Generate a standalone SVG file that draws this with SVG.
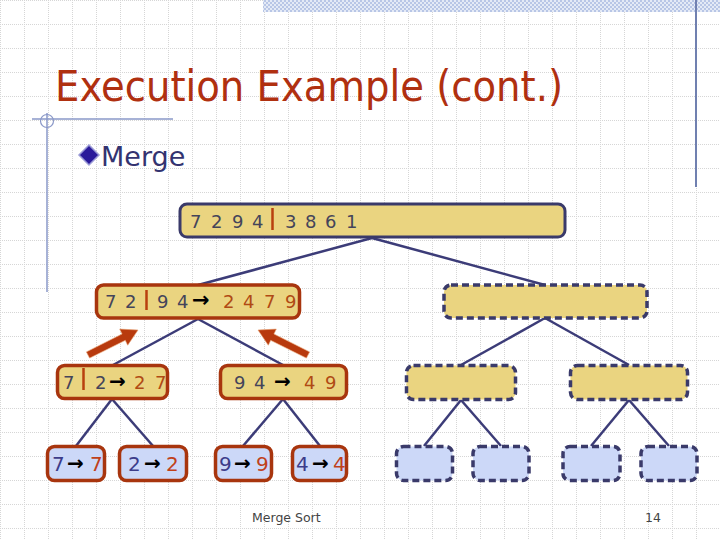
<svg xmlns="http://www.w3.org/2000/svg" width="720" height="540" viewBox="0 0 720 540">
<defs>
<pattern id="grid" x="0" y="0" width="24" height="24" patternUnits="userSpaceOnUse">
<line x1="0" y1="0.5" x2="24" y2="0.5" stroke="#d6d6d6" stroke-width="1" stroke-dasharray="1 1"/>
<line x1="0.5" y1="0" x2="0.5" y2="24" stroke="#d6d6d6" stroke-width="1" stroke-dasharray="1 1"/>
</pattern>
<pattern id="check" x="0" y="0" width="4" height="4" patternUnits="userSpaceOnUse">
<rect width="4" height="4" fill="#e4eaf6"/>
<rect width="2" height="2" fill="#b8c6e6"/>
<rect x="2" y="2" width="2" height="2" fill="#b8c6e6"/>
</pattern>
</defs>
<style>
.dig{font-family:"DejaVu Sans",Verdana,sans-serif;font-size:18px;fill:#44445a}
.res{fill:#b04a14}
.leaf{font-family:"DejaVu Sans",Verdana,sans-serif;font-size:20px}
.lv{fill:#3c3c8a}
.rv{fill:#c0401a}
.arr{font-family:"DejaVu Sans",sans-serif;font-weight:bold;fill:#000}
.gold{fill:#ead480}
.blue{fill:#ccd8f8}
.navy{stroke:#3a3a6a;stroke-width:3}
.red{stroke:#a8350e;stroke-width:3.5}
.dash{stroke:#3a3a6a;stroke-width:3.5;stroke-dasharray:7 4}
.bar{stroke:#b8400e;stroke-width:2.5}
.conn line{stroke:#3c3c78;stroke-width:2.5}
</style>
<rect width="720" height="540" fill="#ffffff"/>
<rect width="720" height="540" fill="url(#grid)"/>
<rect x="263" y="0" width="457" height="12" fill="url(#check)"/>
<line x1="696" y1="0" x2="696" y2="187" stroke="#7080b0" stroke-width="2"/>
<line x1="47" y1="113" x2="47" y2="292" stroke="#8a98c8" stroke-width="1.5"/>
<line x1="32" y1="119" x2="173" y2="119" stroke="#8a98c8" stroke-width="1.5"/>
<circle cx="47" cy="121" r="6.5" fill="none" stroke="#8a98c8" stroke-width="1.2"/>

<text x="55" y="101" font-family="DejaVu Sans,Verdana,sans-serif" font-size="42" fill="#b03010" textLength="508" lengthAdjust="spacingAndGlyphs">Execution Example (cont.)</text>
<polygon points="89,145 99,155 89,165 79,155" fill="#2a1a9a" stroke="#9a9ad6" stroke-width="1.5"/>
<text x="101" y="166" font-family="DejaVu Sans,Verdana,sans-serif" font-size="27" fill="#333370">Merge</text>

<g class="conn" id="connectors">
<line x1="372" y1="238" x2="198" y2="285"/>
<line x1="372" y1="238" x2="545" y2="285"/>
<line x1="198" y1="319" x2="113" y2="365"/>
<line x1="198" y1="319" x2="283" y2="365"/>
<line x1="545" y1="318" x2="461" y2="365"/>
<line x1="545" y1="318" x2="629" y2="365"/>
<line x1="112" y1="399" x2="76" y2="446"/>
<line x1="112" y1="399" x2="153" y2="446"/>
<line x1="283" y1="399" x2="243" y2="446"/>
<line x1="283" y1="399" x2="320" y2="446"/>
<line x1="461" y1="400" x2="424" y2="446"/>
<line x1="461" y1="400" x2="501" y2="446"/>
<line x1="629" y1="400" x2="591" y2="446"/>
<line x1="629" y1="400" x2="669" y2="446"/>
</g>

<g id="n0">
<rect x="180" y="204" width="385" height="33" rx="7" class="gold navy"/>
<text class="dig" x="190 211 232 252" y="228">7294</text>
<line x1="272.5" y1="208" x2="272.5" y2="230" class="bar"/>
<text class="dig" x="285 305 325 346" y="228">3861</text>
</g>

<g id="n1a">
<rect x="96.5" y="285" width="203" height="33" rx="7" class="gold red"/>
<text class="dig" x="105 125" y="308">72</text>
<line x1="146.5" y1="290" x2="146.5" y2="310" class="bar"/>
<text class="dig" x="157 177" y="308">94</text>
<text class="arr" x="192" y="307" font-size="21">→</text>
<text class="dig res" x="223 243 264 285" y="308">2479</text>
</g>

<g id="n1b">
<rect x="444" y="285" width="203" height="33" rx="7" class="gold dash"/>
</g>

<g id="n2a">
<rect x="57.5" y="365.5" width="110" height="33" rx="7" class="gold red"/>
<text class="dig" x="63" y="389">7</text>
<line x1="83.5" y1="368" x2="83.5" y2="390" class="bar"/>
<text class="dig" x="95" y="389">2</text>
<text class="arr" x="109" y="388" font-size="20">→</text>
<text class="dig res" x="134 155" y="389">27</text>
</g>

<g id="n2b">
<rect x="220.5" y="365.5" width="126" height="33" rx="7" class="gold red"/>
<text class="dig" x="234 254" y="389">94</text>
<text class="arr" x="274" y="388" font-size="20">→</text>
<text class="dig res" x="304 325" y="389">49</text>
</g>

<g id="n2c">
<rect x="406.5" y="365.5" width="109" height="34" rx="7" class="gold dash"/>
</g>
<g id="n2d">
<rect x="570.5" y="365.5" width="117" height="34" rx="7" class="gold dash"/>
</g>

<g id="n3a">
<rect x="47.5" y="446.5" width="57" height="34" rx="7" class="blue red"/>
<text class="leaf lv" x="52" y="471">7</text>
<text class="arr" x="67" y="470" font-size="20">→</text>
<text class="leaf rv" x="90" y="471">7</text>
</g>
<g id="n3b">
<rect x="119.5" y="446.5" width="67" height="34" rx="7" class="blue red"/>
<text class="leaf lv" x="128" y="471">2</text>
<text class="arr" x="144" y="470" font-size="20">→</text>
<text class="leaf rv" x="166" y="471">2</text>
</g>
<g id="n3c">
<rect x="215.5" y="446.5" width="56" height="34" rx="7" class="blue red"/>
<text class="leaf lv" x="219" y="471">9</text>
<text class="arr" x="234" y="470" font-size="20">→</text>
<text class="leaf rv" x="256" y="471">9</text>
</g>
<g id="n3d">
<rect x="292.5" y="446.5" width="54" height="34" rx="7" class="blue red"/>
<text class="leaf lv" x="296" y="471">4</text>
<text class="arr" x="312" y="470" font-size="20">→</text>
<text class="leaf rv" x="333" y="471">4</text>
</g>

<g id="n3e"><rect x="396.5" y="446.5" width="56" height="34" rx="7" class="blue dash"/></g>
<g id="n3f"><rect x="473" y="446.5" width="56" height="34" rx="7" class="blue dash"/></g>
<g id="n3g"><rect x="563" y="446.5" width="57" height="34" rx="7" class="blue dash"/></g>
<g id="n3h"><rect x="641" y="446.5" width="56" height="34" rx="7" class="blue dash"/></g>

<g id="pointers" fill="#b83a0e" stroke="#e8a070" stroke-width="1" stroke-opacity="0.6">
<polygon points="138,330 127.7,345.2 125.3,340.3 89.6,358.1 86.4,351.9 122.1,334 119.7,329.1"/>
<polygon points="258,330 268.3,345.2 270.7,340.3 306.4,358.1 309.6,351.9 273.9,334 276.3,329.1"/>
</g>

<text x="252" y="522" font-family="DejaVu Sans,Verdana,sans-serif" font-size="12.5" fill="#444">Merge Sort</text>
<text x="645" y="522" font-family="DejaVu Sans,Verdana,sans-serif" font-size="12.5" fill="#444">14</text>
</svg>
